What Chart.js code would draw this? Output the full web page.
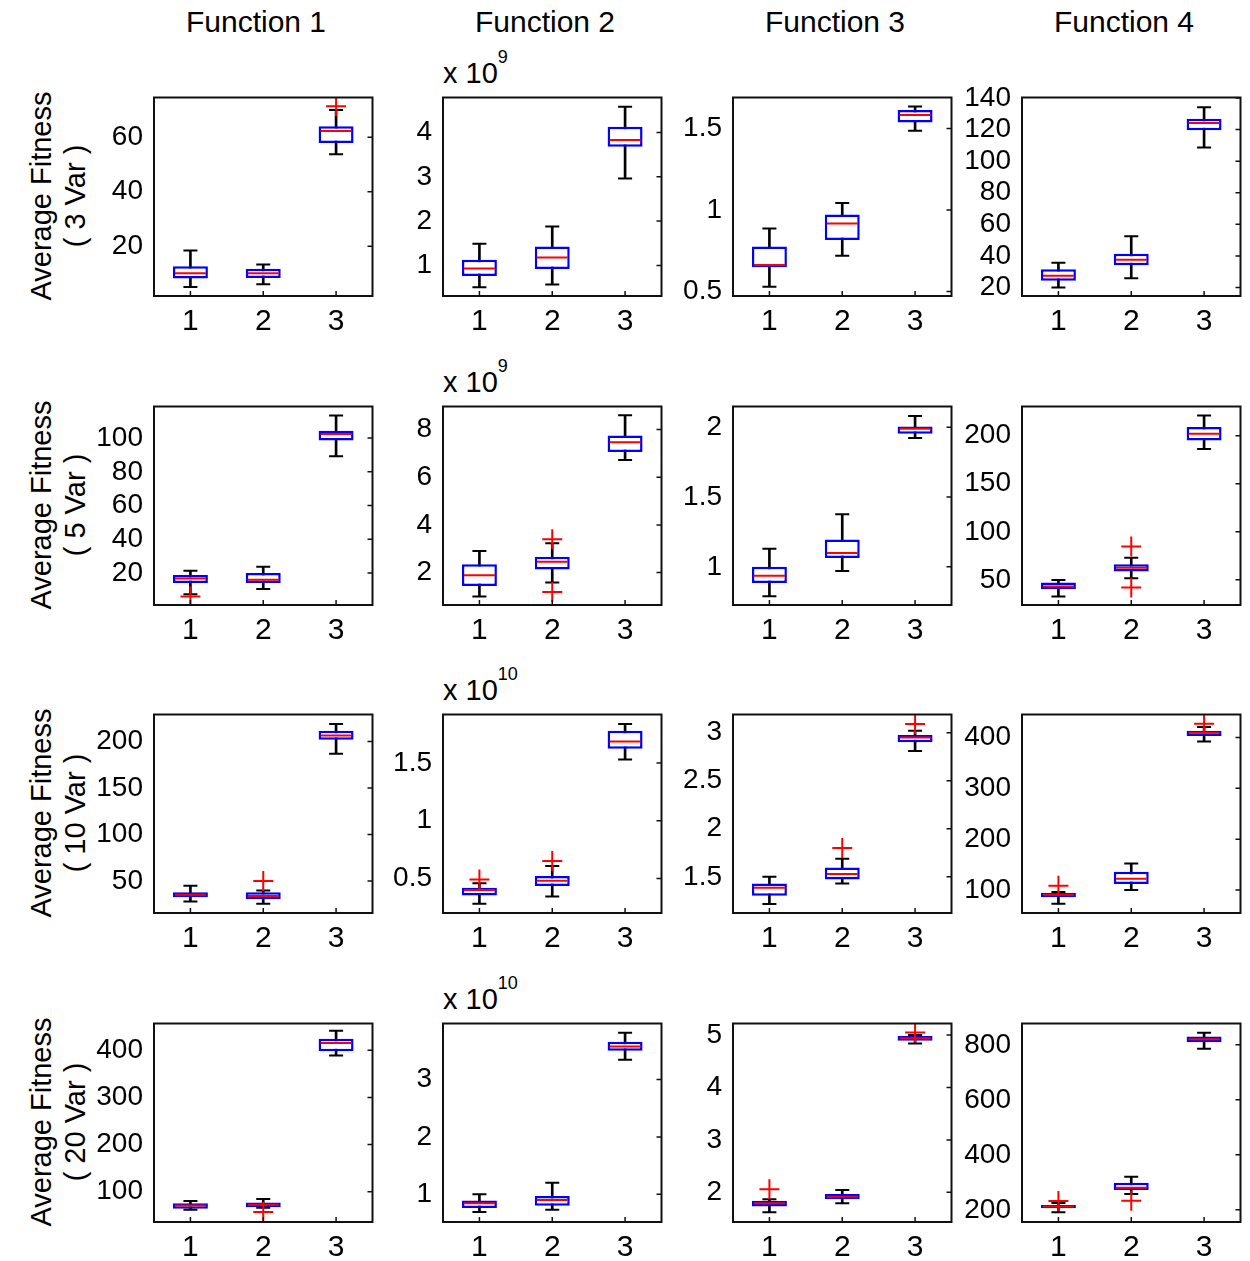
<!DOCTYPE html>
<html>
<head>
<meta charset="utf-8">
<script src="https://cdn.jsdelivr.net/npm/chart.js@4.4.1/dist/chart.umd.min.js"></script>
<style>
body{margin:0;background:#fff;font-family:"Liberation Sans",Arial,sans-serif;color:#000;}
#page{position:relative;width:1250px;height:1261px;overflow:hidden;}
canvas{position:absolute;}
.title{position:absolute;width:300px;text-align:center;font-size:30px;line-height:34px;}
.exp{position:absolute;font-size:29px;line-height:30px;white-space:nowrap;}
.exp sup{font-size:18px;position:relative;top:-9px;}
.ylab{position:absolute;width:320px;text-align:center;font-size:29px;line-height:34px;transform:rotate(-90deg);}
</style>
</head>
<body>
<div id="page"></div>
<script>
const functions=["Function 1","Function 2","Function 3","Function 4"];
const varLabels=["( 3 Var )","( 5 Var )","( 10 Var )","( 20 Var )"];
const groups=["1","2","3"];

// box stats per group: [lower whisker, q1, median, q3, upper whisker]
const var3Stats=[
  [[5.0,8.1,10.1,12.6,18.4],[6.0,8.3,10.1,11.7,13.3],[53.8,57.9,62.3,64.0,70.0]],
  [[0.51,0.76,0.93,1.13,1.49],[0.57,0.92,1.18,1.43,1.88],[2.96,3.68,3.83,4.13,4.58]],
  [[0.53,0.65,0.663,0.777,0.887],[0.72,0.816,0.918,0.973,1.043],[1.486,1.537,1.582,1.613,1.635]],
  [[20,24.2,27.4,31.6,35.7],[25.9,34.1,37.6,41.4,52.5],[108.7,119.6,124.2,126.9,134.1]]
];
const var5Stats=[
  [[7.5,14.1,16.8,18.8,21.4],[10.6,14.1,16,20,23.7],[89.2,98.5,102.4,104.4,113.4]],
  [[1.0,1.44,1.89,2.35,2.91],[1.58,2.13,2.45,2.66,3.23],[6.72,7.06,7.47,7.75,8.6]],
  [[0.79,0.884,0.936,1.0,1.13],[0.97,1.064,1.1,1.195,1.376],[1.922,1.953,1.989,2.005,2.08]],
  [[32.7,40.3,43,47.2,49.7],[51.7,58.6,62.7,66.2,73],[186.1,195.1,202.1,209,221.1]]
];
const var10Stats=[
  [[28,32.6,35.1,38,45],[25.5,30.5,34,38,39.7],[186.9,201.8,206.4,211.4,218.8]],
  [[0.28,0.351,0.4,0.419,0.457],[0.342,0.434,0.48,0.52,0.607],[1.529,1.623,1.686,1.78,1.838]],
  [[1.217,1.303,1.385,1.43,1.5],[1.43,1.473,1.528,1.596,1.688],[2.81,2.9,2.95,2.977,3.02]],
  [[72.7,85.8,90.3,94.5,96],[100,111.7,122,135.7,152],[392,403.3,409.7,413.6,421]]
];
const var20Stats=[
  [[61.6,63.7,70.6,75.6,80.5],[66,67.2,72.1,77,84.7],[388.9,397.9,415.4,424.6,441.6]],
  [[0.69,0.759,0.845,0.89,1.0],[0.731,0.8,0.902,0.971,1.2],[3.345,3.5,3.575,3.66,3.816]],
  [[1.62,1.728,1.79,1.84,1.868],[1.79,1.868,1.917,1.968,2.043],[4.84,4.892,4.937,4.98,5.0]],
  [[191.6,206,212,218,225],[257.6,272,280.4,298.4,320],[785.6,809.4,820.1,830,844.3]]
];

// outliers per group
const var3Outliers=[[[],[],[71.4]],[[],[],[]],[[],[],[]],[[],[],[]]];
const var5Outliers=[[[6.2],[],[]],[[],[3.4,1.19],[]],[[],[],[]],[[],[84.8,42],[]]];
const var10Outliers=[[[],[50],[]],[[0.49],[0.65],[]],[[],[1.8],[3.09]],[[108.4],[],[427]]];
const var20Outliers=[[[],[56.7],[]],[[],[],[]],[[2.057],[],[5.05]],[[232.4],[233.5],[]]];

// y axis limits [min, max] per function
const var3Range=[[1.7,74.6],[0.31,4.79],[0.473,1.69],[14.6,140.3]];
const var5Range=[[1.1,118.7],[0.64,8.97],[0.727,2.148],[23.8,230.4]];
const var10Range=[[15.6,229],[0.2,1.92],[1.123,3.19],[54.6,445.4]];
const var20Range=[[35.7,457],[0.517,3.976],[1.434,5.22],[155.8,877.7]];

// y tick labels per function
const var3Ticks=[[20,40,60],[1,2,3,4],[0.5,1,1.5],[20,40,60,80,100,120,140]];
const var5Ticks=[[20,40,60,80,100],[2,4,6,8],[1,1.5,2],[50,100,150,200]];
const var10Ticks=[[50,100,150,200],[0.5,1,1.5],[1.5,2,2.5,3],[100,200,300,400]];
const var20Ticks=[[100,200,300,400],[1,2,3],[2,3,4,5],[200,400,600,800]];

// Function 2 values are shown as x 10^n
const fn2Exponent=[9,9,10,10];

const rowsStats=[var3Stats,var5Stats,var10Stats,var20Stats];
const rowsOut=[var3Outliers,var5Outliers,var10Outliers,var20Outliers];
const rowsRange=[var3Range,var5Range,var10Range,var20Range];
const rowsTicks=[var3Ticks,var5Ticks,var10Ticks,var20Ticks];

const colLeft=[154,443,733,1022];
const rowTop=[96,405,713,1022];
const plotW=222, plotH=200;
const Y_W=90, X_H=46, PAD_T=16, PAD_R=14;
const FONT='"Liberation Sans", Arial, sans-serif';

const page=document.getElementById("page");

// matlab-like frame with inward ticks on right and bottom
const frame={
  id:"frame",
  afterDraw(chart){
    let ctx=chart.ctx, a=chart.chartArea, sx=chart.scales.x, sy=chart.scales.y;
    ctx.save();
    ctx.strokeStyle="#111";
    ctx.lineWidth=1.5;
    ctx.beginPath();
    sy.ticks.forEach(function(t){
      let y=sy.getPixelForValue(t.value);
      ctx.moveTo(a.right,y);ctx.lineTo(a.right-5,y);
    });
    sx.ticks.forEach(function(t,i){
      let x=sx.getPixelForTick(i);
      ctx.moveTo(x,a.bottom);ctx.lineTo(x,a.bottom-5);
    });
    ctx.stroke();
    ctx.lineWidth=2;
    ctx.strokeRect(a.left,a.top,a.width,a.height);
    ctx.restore();
  }
};

function addText(cls,html,left,top){
  let d=document.createElement("div");
  d.className=cls;
  d.innerHTML=html;
  d.style.left=left+"px";
  d.style.top=top+"px";
  page.appendChild(d);
  return d;
}

function makePanel(r,c){
  let stats=rowsStats[r][c], outs=rowsOut[r][c], range=rowsRange[r][c], tickVals=rowsTicks[r][c];

  let canvas=document.createElement("canvas");
  canvas.width=Y_W+plotW+PAD_R;
  canvas.height=PAD_T+plotH+X_H;
  canvas.style.left=(colLeft[c]-Y_W)+"px";
  canvas.style.top=(rowTop[r]-PAD_T)+"px";
  page.appendChild(canvas);

  let caps=[], meds=[], outPts=[];
  stats.forEach(function(s,i){
    caps.push({x:groups[i],y:s[0]});
    caps.push({x:groups[i],y:s[4]});
    meds.push({x:groups[i],y:s[2]});
    outs[i].forEach(function(v){outPts.push({x:groups[i],y:v});});
  });

  new Chart(canvas,{
    type:"bar",
    plugins:[frame],
    data:{
      labels:groups,
      datasets:[
        {type:"bar",data:stats.map(s=>[s[0],s[4]]),backgroundColor:"#000",barThickness:2,grouped:false,order:4},
        {type:"bar",data:stats.map(s=>[s[1],s[3]]),backgroundColor:"#fff",borderColor:"#0000ff",borderWidth:2.5,
          borderSkipped:false,barPercentage:0.48,categoryPercentage:1,grouped:false,order:3},
        {type:"line",data:caps,showLine:false,pointStyle:"line",pointRadius:7,borderColor:"#000",pointBorderWidth:2,order:2},
        {type:"line",data:meds,showLine:false,pointStyle:"line",pointRadius:15.5,borderColor:"#ff0000",pointBorderWidth:2,order:1},
        {type:"line",data:outPts,showLine:false,pointStyle:"cross",pointRadius:10,borderColor:"#ff0000",pointBorderWidth:2,order:0}
      ]
    },
    options:{
      responsive:false,
      animation:false,
      events:[],
      layout:{padding:{top:PAD_T,right:PAD_R,left:0,bottom:0}},
      plugins:{legend:{display:false},tooltip:{enabled:false}},
      scales:{
        x:{
          grid:{display:false,drawTicks:false},border:{display:false},
          ticks:{color:"#000",font:{size:30,family:FONT},padding:8,maxRotation:0},
          afterFit:function(s){s.height=X_H;s.paddingLeft=0;s.paddingRight=0;}
        },
        y:{
          min:range[0],max:range[1],
          grid:{display:false,drawTicks:false},border:{display:false},
          ticks:{autoSkip:false,color:"#000",font:{size:28,family:FONT},padding:11,
            callback:function(v){return String(+v.toFixed(6));}},
          afterBuildTicks:function(s){s.ticks=tickVals.map(v=>({value:v}));},
          afterFit:function(s){s.width=Y_W;s.paddingTop=0;s.paddingBottom=0;}
        }
      }
    }
  });
}

for(let c=0;c<4;c++){
  addText("title",functions[c],colLeft[c]+plotW/2-159,5);
}
for(let r=0;r<4;r++){
  addText("ylab","Average Fitness<br>"+varLabels[r],58-160,rowTop[r]+plotH/2-34);
  addText("exp","x 10<sup>"+fn2Exponent[r]+"</sup>",colLeft[1],rowTop[r]-45);
  for(let c=0;c<4;c++){
    makePanel(r,c);
  }
}
</script>
</body>
</html>
